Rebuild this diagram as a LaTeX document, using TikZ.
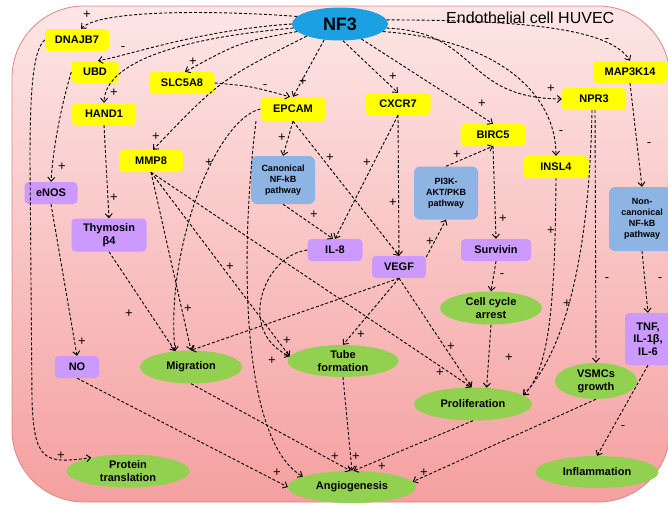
\documentclass[tikz,border=0pt]{standalone}
\usepackage{fontspec}
\setmainfont{Liberation Sans}
\usetikzlibrary{arrows.meta,shapes.geometric}
\definecolor{ybox}{HTML}{FFFF00}
\definecolor{pbox}{HTML}{CC99FF}
\definecolor{bbox}{HTML}{8EB4E3}
\definecolor{gell}{HTML}{92D050}
\definecolor{nfblue}{HTML}{1BA1E2}
\definecolor{bgtop}{HTML}{FDE6E6}
\definecolor{bgbot}{HTML}{F5A0A0}
\definecolor{bgline}{HTML}{E08585}
\begin{document}
\begin{tikzpicture}[x=1pt,y=-1pt,
 box/.style={rectangle,rounded corners=4pt,inner sep=1pt,align=center,font=\fontsize{11}{12.5}\selectfont\bfseries},
 gene/.style={box,fill=ybox,minimum height=22pt},
 mol/.style={box,fill=pbox,minimum height=22pt},
 pway/.style={box,fill=bbox,rounded corners=6pt,font=\fontsize{9}{11}\selectfont\bfseries},
 proc/.style={ellipse,fill=gell,inner sep=0pt,align=center,font=\fontsize{11}{13}\selectfont\bfseries},
 lnk/.style={line width=0.9pt,dash pattern=on 3pt off 2pt,-{Straight Barb[length=4pt,width=7pt]}},
 sg/.style={font=\fontsize{13}{13}\selectfont,inner sep=0pt}
]
\useasboundingbox (0,0) rectangle (668,506);
\clip (0,0) rectangle (668,506);
\shade[top color=bgtop,bottom color=bgbot,draw=bgline,line width=0.8pt,rounded corners=72pt] (12,6) rectangle (670,502);

% nodes
\node[ellipse,fill=nfblue,minimum width=96pt,minimum height=33pt,inner sep=0pt,font=\fontsize{18}{18}\selectfont\bfseries] (nf3) at (340,24) {NF3};
\node[font=\fontsize{16}{16}\selectfont,anchor=west,inner sep=0pt] (title) at (446,18) {Endothelial cell HUVEC};

\node[gene,minimum width=64pt] (dnajb) at (77,40) {DNAJB7};
\node[gene,minimum width=47pt] (ubd) at (95,72) {UBD};
\node[gene,minimum width=65pt] (slc) at (182,83) {SLC5A8};
\node[gene,minimum width=64pt] (hand) at (104,114) {HAND1};
\node[gene,minimum width=64pt] (mmp) at (151,161) {MMP8};
\node[gene,minimum width=65pt,minimum height=24pt] (epcam) at (293,109) {EPCAM};
\node[gene,minimum width=65pt] (cxcr) at (398,104) {CXCR7};
\node[gene,minimum width=64pt] (npr) at (594,99) {NPR3};
\node[gene,minimum width=74pt] (map) at (630,72) {MAP3K14};
\node[gene,minimum width=65pt] (birc) at (493,135) {BIRC5};
\node[gene,minimum width=65pt] (insl) at (556,167) {INSL4};

\node[mol,minimum width=53pt] (enos) at (51,193) {eNOS};
\node[mol,minimum width=75pt,minimum height=33pt] (thym) at (109,235) {Thymosin\\β4};
\node[mol,minimum width=55pt] (il8) at (335,250) {IL-8};
\node[mol,minimum width=54pt] (vegf) at (399,267) {VEGF};
\node[mol,minimum width=70pt] (surv) at (496,250) {Survivin};
\node[mol,minimum width=46pt,minimum height=52pt] (tnf) at (648,339) {TNF,\\IL-1β,\\IL-6};
\node[mol,minimum width=44pt] (no) at (77,367) {NO};

\node[pway,minimum width=64pt,minimum height=48pt] (canon) at (283,180) {Canonical\\NF-kB\\pathway};
\node[pway,minimum width=64pt,minimum height=53pt] (pi3k) at (446,193) {PI3K-\\AKT/PKB\\pathway};
\node[pway,minimum width=66pt,minimum height=64pt] (noncan) at (642,219) {Non-\\canonical\\NF-kB\\pathway};

\node[proc,minimum width=102pt,minimum height=33pt] (cca) at (491,308) {Cell cycle\\arrest};
\node[proc,minimum width=102pt,minimum height=33pt] (mig) at (191,367) {Migration};
\node[proc,minimum width=111pt,minimum height=32pt] (tube) at (343,361) {Tube\\formation};
\node[proc,minimum width=118pt,minimum height=33pt] (prol) at (473,404) {Proliferation};
\node[proc,minimum width=82pt,minimum height=36pt] (vsmc) at (596,381) {VSMCs\\growth};
\node[proc,minimum width=123pt,minimum height=33pt] (prot) at (128,471) {Protein\\translation};
\node[proc,minimum width=128pt,minimum height=32pt] (ang) at (352,487) {Angiogenesis};
\node[proc,minimum width=123pt,minimum height=32pt] (infl) at (597,472) {Inflammation};

% connectors from NF3
\draw[lnk] (nf3.170) .. controls (210,10) and (100,10) .. ([xshift=4pt]dnajb.north);
\draw[lnk] (nf3.180) .. controls (200,30) and (130,55) .. ([xshift=3pt]ubd.north);
\draw[lnk] (nf3.185) .. controls (180,38) and (105,62) .. (hand.north);
\draw[lnk] (nf3.190) .. controls (240,42) .. ([xshift=3pt]slc.north);
\draw[lnk] (nf3.200) .. controls (220,80) .. ([xshift=2pt]mmp.north);
\draw[lnk] (nf3.225) -- (epcam.north);
\draw[lnk] (slc.east) .. controls (250,86) .. ([xshift=-3pt]epcam.north);
\draw[lnk] (nf3.280) -- (cxcr.north);
\draw[lnk] (nf3.325) -- (birc.north);
\draw[lnk] (nf3.355) .. controls (480,32) and (462,98) .. (npr.west);
\draw[lnk] (nf3.350) .. controls (500,40) and (556,95) .. (insl.north);
\draw[lnk] (nf3.5) .. controls (520,20) and (610,28) .. (map.north);

% other connectors
\draw[lnk] (dnajb.west) .. controls (32,50) and (30,100) .. (30,160) -- (32,400) .. controls (34,462) and (45,464) .. (prot.160);
\draw[lnk] (ubd.west) .. controls (60,110) and (53,150) .. (enos.north);
\draw[lnk] (hand.south) -- (thym.north);
\draw[lnk] (enos.south) -- (no.north);
\draw[lnk] (thym.south) -- (mig.135);
\draw[lnk] (epcam.west) .. controls (215,120) and (165,250) .. (mig.135);
\draw[lnk] (mmp.south) -- (mig.north);
\draw[lnk] (vegf.south) -- (mig.north);
\draw[lnk] (mmp.south) -- (tube.175);
\draw[lnk] (il8.west) .. controls (265,255) and (235,330) .. (tube.175);
\draw[lnk] (mmp.south) -- (prol.95);
\draw[lnk] (vegf.south) -- (prol.95);
\draw[lnk] (vegf.south) -- (tube.north);
\draw[lnk] (vegf.20) -- (pi3k.south);
\draw[lnk] (pi3k.north) -- (birc.south);
\draw[lnk] (birc.south) -- (surv.north);
\draw[lnk] (surv.south) -- (cca.north);
\draw[lnk] (cca.south) -- (prol.50);
\draw[lnk] (insl.south) .. controls (555,300) and (550,370) .. (prol.10);
\draw[lnk] ([xshift=-2pt]npr.south) .. controls (590,220) and (575,340) .. (prol.10);
\draw[lnk] ([xshift=1pt]npr.south) -- (vsmc.north);
\draw[lnk] (map.south) -- (noncan.north);
\draw[lnk] (noncan.south) -- (tnf.north);
\draw[lnk] (tnf.south) -- (infl.north);
\draw[lnk] (vsmc.south) -- (ang.5);
\draw[lnk] (prol.south) -- (ang.85);
\draw[lnk] (tube.south) -- (ang.north);
\draw[lnk] (mig.south) -- (ang.95);
\draw[lnk] (no.south) -- (ang.west);
\draw[lnk] ([xshift=-37pt]epcam.south) .. controls (240,250) and (240,440) .. (ang.168);
\draw[lnk] (epcam.south) -- (canon.north);
\draw[lnk] (epcam.south) -- (vegf.north);
\draw[lnk] (canon.south) -- ([xshift=-2pt]il8.north);
\draw[lnk] (cxcr.south) -- (il8.north);
\draw[lnk] (cxcr.south) -- (vegf.north);

% signs
\node[sg] (s1) at (87,15) {+};
\node[sg] (s2) at (123,49) {-};
\node[sg] (s3) at (114,93) {+};
\node[sg] (s4) at (193,62) {+};
\node[sg] (s5) at (156,137) {+};
\node[sg] (s6) at (303,82) {+};
\node[sg] (s7) at (265,87) {-};
\node[sg] (s8) at (393,77) {+};
\node[sg] (s9) at (482,104) {+};
\node[sg] (s10) at (551,89) {+};
\node[sg] (s11) at (561,133) {-};
\node[sg] (s12) at (607,41) {-};
\node[sg] (s13) at (61,456) {+};
\node[sg] (s14) at (62,167) {+};
\node[sg] (s15) at (114,198) {+};
\node[sg] (s16) at (82,342) {+};
\node[sg] (s17) at (129,314) {+};
\node[sg] (s18) at (188,309) {+};
\node[sg] (s19) at (209,163) {+};
\node[sg] (s20) at (282,138) {+};
\node[sg] (s21) at (330,158) {+};
\node[sg] (s22) at (367,163) {+};
\node[sg] (s23) at (393,203) {+};
\node[sg] (s24) at (314,215) {+};
\node[sg] (s25) at (430,242) {+};
\node[sg] (s26) at (457,155) {+};
\node[sg] (s27) at (503,219) {+};
\node[sg] (s28) at (502,276) {-};
\node[sg] (s29) at (551,231) {+};
\node[sg] (s30) at (567,304) {+};
\node[sg] (s31) at (607,280) {-};
\node[sg] (s32) at (649,145) {-};
\node[sg] (s33) at (660,280) {-};
\node[sg] (s34) at (623,428) {-};
\node[sg] (s35) at (509,358) {+};
\node[sg] (s36) at (451,347) {+};
\node[sg] (s37) at (440,373) {+};
\node[sg] (s38) at (361,335) {+};
\node[sg] (s39) at (287,341) {+};
\node[sg] (s40) at (272,361) {+};
\node[sg] (s41) at (230,267) {+};
\node[sg] (s42) at (335,457) {+};
\node[sg] (s43) at (356,457) {+};
\node[sg] (s44) at (382,467) {+};
\node[sg] (s45) at (277,473) {+};
\node[sg] (s46) at (424,473) {+};
\end{tikzpicture}
\end{document}
